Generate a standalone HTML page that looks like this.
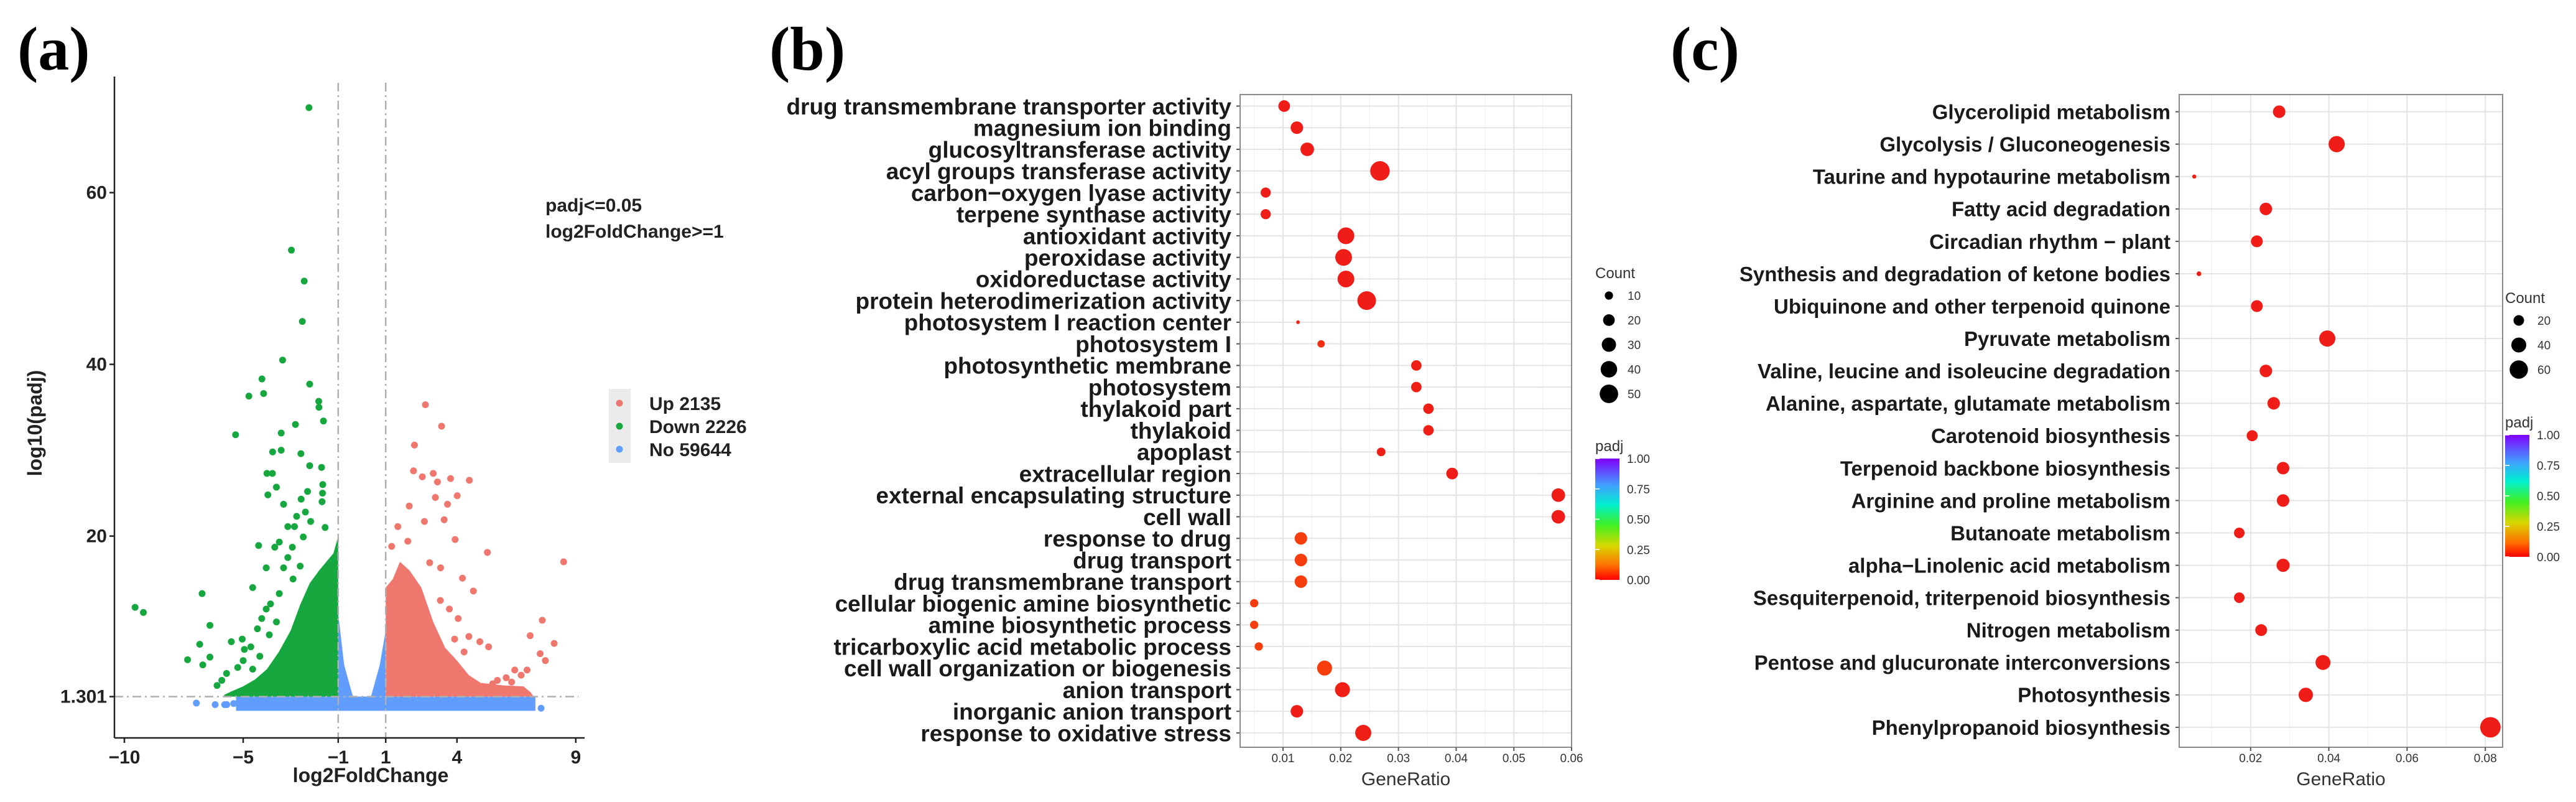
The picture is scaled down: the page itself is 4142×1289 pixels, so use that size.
<!DOCTYPE html>
<html><head><meta charset="utf-8"><style>
html,body{margin:0;padding:0;background:#fff;}
svg{display:block;}
text{font-family:"Liberation Sans",sans-serif;}
</style></head><body>
<svg id="fig" width="4142" height="1289" viewBox="0 0 4142 1289">
<defs>
<linearGradient id="padjGrad" x1="0" y1="1" x2="0" y2="0">
<stop offset="0" stop-color="#ff0000"/><stop offset="0.12" stop-color="#ff7000"/><stop offset="0.28" stop-color="#d8d800"/><stop offset="0.45" stop-color="#40f020"/><stop offset="0.62" stop-color="#00f0d0"/><stop offset="0.78" stop-color="#40a0ff"/><stop offset="1" stop-color="#8000ff"/>
</linearGradient>
</defs>
<text x="28" y="112" font-weight="bold" font-size="100" style="font-family:'Liberation Serif',serif">(a)</text>
<text x="1237" y="112" font-weight="bold" font-size="100" style="font-family:'Liberation Serif',serif">(b)</text>
<text x="2686" y="112" font-weight="bold" font-size="100" style="font-family:'Liberation Serif',serif">(c)</text>
<g id="pa"></g>
<g id="pb"></g>
<g id="pc"></g>
</svg>
<script>
// ===== Panel A data =====
const aXTicks = [-10, -5, -1, 1, 4, 9];
const aYTicks = [1.301, 20, 40, 60];
const greenX = [-2.23,-2.97,-2.43,-2.51,-3.34,-4.21,-4.76,-4.14,-2.2,-1.82,-1.81,-1.62,-5.32,-2.8,-3.4,-3.4,-3.76,-2.57,-2.2,-4.0,-3.77,-3.6,-3.96,-1.7,-1.65,-1.66,-1.68,-1.55,-4.35,-4.6,-6.73,-9.55,-9.2,-6.4,-7.34,-6.83,-6.4,-6.7,-5.5,-5.04,-5.23,-4.95,-4.68,-4.4,-4.22,-4.03,-3.85,-3.48,-3.3,-3.12,-2.93,-2.84,-2.75,-2.38,-2.47,-2.16,-4.03,-3.67,-3.12,-3.48,-2.56,-2.29,-3.3,-5.9,-6.1,-5.7,-3.9,-3.6,-4.3,-2.9,-2.6,-5.0,-4.6];
const greenY = [69.9,53.3,49.7,45.0,40.5,38.3,36.3,36.6,37.7,35.7,35.0,33.4,31.8,33.0,32.0,30.0,29.8,29.6,28.2,27.3,27.3,25.7,24.8,28.0,26.0,25.0,24.0,21.0,18.9,14.0,13.3,11.7,11.1,9.6,5.6,7.4,5.9,5.0,7.7,8.0,4.7,6.8,7.1,9.2,10.4,11.5,12.1,13.3,16.3,17.5,18.7,21.1,22.3,22.8,19.9,21.7,16.3,18.7,21.1,19.3,24.3,25.2,23.7,3.2,2.6,4.0,8.5,10.0,6.0,15.0,16.5,5.5,4.5];
const redX = [2.67,3.35,2.21,2.17,2.54,3.0,3.18,3.73,4.52,3.09,3.6,4.01,1.99,3.46,1.51,2.63,3.92,5.28,8.49,4.69,1.25,1.93,2.85,3.31,4.23,7.59,7.08,8.09,7.5,7.72,4.5,4.96,5.33,4.05,3.68,6.43,6.95,6.07,5.7,5.5,6.3,6.7,3.9,4.3,3.3];
const redY = [35.3,32.8,30.6,27.6,26.9,27.3,26.3,26.7,26.5,24.5,23.7,24.7,23.5,21.9,21.1,21.7,19.6,18.1,17.0,13.6,18.8,19.4,16.9,16.3,15.1,10.2,8.4,7.5,6.3,5.5,8.3,7.7,7.1,10.4,11.5,4.4,4.4,3.5,3.2,2.8,3.0,3.8,8.0,6.5,12.5];
const blueX = [-6.97,-6.18,-5.78,-5.69,7.54,7.08,6.43,6.9,-5.4];
const blueY = [0.55,0.37,0.37,0.37,-0.05,1.1,0.2,0.6,0.5];
const greenEnvX = [-1,-1.2,-1.5,-1.8,-2.2,-2.6,-3,-3.5,-4,-4.5,-5,-5.5,-5.8];
const greenEnvY = [20,18,17,16,14.5,12,9,6.5,4.5,3.3,2.5,1.9,1.5];
const redEnvX = [1,1.3,1.6,2,2.5,3,3.5,4,4.5,5,6,6.8,7.1,7.2];
const redEnvY = [14,15,17,16,14,10,7,5.5,3.8,2.9,2.6,2.5,1.8,1.4];
const vX = [-1,-0.75,-0.4,0,0.4,0.75,1];
const vY = [11,5,1.5,-0.2,1.5,5,9];
const bandRange = [-5.3, 7.3];
const bandLow = -0.35;
const legendLabels = ['Up 2135','Down 2226','No 59644'];

// ===== Panel B data =====
const bTerms = ['drug transmembrane transporter activity','magnesium ion binding','glucosyltransferase activity','acyl groups transferase activity','carbon\u2212oxygen lyase activity','terpene synthase activity','antioxidant activity','peroxidase activity','oxidoreductase activity','protein heterodimerization activity','photosystem I reaction center','photosystem I','photosynthetic membrane','photosystem','thylakoid part','thylakoid','apoplast','extracellular region','external encapsulating structure','cell wall','response to drug','drug transport','drug transmembrane transport','cellular biogenic amine biosynthetic','amine biosynthetic process','tricarboxylic acid metabolic process','cell wall organization or biogenesis','anion transport','inorganic anion transport','response to oxidative stress'];
const bRatio = [0.0102,0.0124,0.0142,0.0268,0.0070,0.0070,0.0209,0.0205,0.0209,0.0245,0.0126,0.0166,0.0331,0.0331,0.0352,0.0352,0.0270,0.0393,0.0577,0.0577,0.0131,0.0131,0.0131,0.0050,0.0050,0.0058,0.0172,0.0203,0.0124,0.0239];
const bCount = [20,23,27,56,15,15,41,41,41,51,2,8,16,16,16,16,11,20,27,27,23,23,23,10,10,10,33,33,23,38];
const bPadj = [0.005,0.005,0.005,0.005,0.005,0.005,0.005,0.005,0.005,0.005,0.02,0.03,0.01,0.01,0.01,0.01,0.01,0.005,0.005,0.005,0.05,0.05,0.05,0.05,0.05,0.05,0.05,0.01,0.005,0.01];
const bXTicks = [0.01,0.02,0.03,0.04,0.05,0.06];
const bSizeLegend = [10,20,30,40,50];
// ===== Panel C data =====
const cTerms = ['Glycerolipid metabolism','Glycolysis / Gluconeogenesis','Taurine and hypotaurine metabolism','Fatty acid degradation','Circadian rhythm \u2212 plant','Synthesis and degradation of ketone bodies','Ubiquinone and other terpenoid quinone','Pyruvate metabolism','Valine, leucine and isoleucine degradation','Alanine, aspartate, glutamate metabolism','Carotenoid biosynthesis','Terpenoid backbone biosynthesis','Arginine and proline metabolism','Butanoate metabolism','alpha\u2212Linolenic acid metabolism','Sesquiterpenoid, triterpenoid biosynthesis','Nitrogen metabolism','Pentose and glucuronate interconversions','Photosynthesis','Phenylpropanoid biosynthesis'];
const cRatio = [0.0273,0.0420,0.0056,0.0239,0.0216,0.0068,0.0216,0.0396,0.0239,0.0259,0.0204,0.0283,0.0283,0.0171,0.0283,0.0171,0.0227,0.0385,0.0341,0.0813];
const cCount = [28,47,3,28,25,4,25,47,28,28,22,28,28,20,31,20,25,40,37,75];
const cPadj = [0.005,0.005,0.01,0.005,0.005,0.01,0.005,0.005,0.005,0.005,0.005,0.005,0.005,0.005,0.005,0.005,0.005,0.005,0.005,0.005];
const cXTicks = [0.02,0.04,0.06,0.08];
const cSizeLegend = [20,40,60];
const padjTicks = [1.00,0.75,0.50,0.25,0.00];

const NS='http://www.w3.org/2000/svg';
function mk(tag, attrs, parent){const e=document.createElementNS(NS,tag);for(const k in attrs)e.setAttribute(k,attrs[k]);parent.appendChild(e);return e;}
function txt(s, attrs, parent){const e=mk('text',attrs,parent);e.textContent=s;return e;}
function padjColor(p){
  const stops=[[0,[238,24,24]],[0.12,[255,112,0]],[0.28,[216,216,0]],[0.45,[64,240,32]],[0.62,[0,240,208]],[0.78,[64,160,255]],[1,[128,0,255]]];
  for(let i=1;i<stops.length;i++){if(p<=stops[i][0]){const a=stops[i-1],b=stops[i];const t=(p-a[0])/(b[0]-a[0]);const c=a[1].map((v,j)=>Math.round(v+(b[1][j]-v)*t));return 'rgb('+c.join(',')+')';}}
  return 'rgb(128,0,255)';
}

// ===== Panel A =====
(function(){
const g=document.getElementById('pa');
const ax=v=>200+(v+10)*38.2, ay=v=>1137.6-v*13.8;
const AX0=184, AX1=940, AY0=123, AY1=1186;
let e=mk('rect',{x:ax(bandRange[0]),y:ay(1.301),width:ax(bandRange[1])-ax(bandRange[0]),height:ay(bandLow)-ay(1.301),fill:'#619cff'},g);


let pts=vX.map((x,i)=>ax(x)+','+ay(vY[i])).join(' ')+' '+ax(1)+','+ay(1.301)+' '+ax(-1)+','+ay(1.301);
e=mk('polygon',{points:pts,fill:'#619cff'},g);


blueX.forEach((x,i)=>{const c=mk('circle',{cx:ax(x),cy:ay(blueY[i]),r:5.5,fill:'#619cff'},g);

});
pts=greenEnvX.map((x,i)=>ax(x)+','+ay(greenEnvY[i])).join(' ')+' '+ax(greenEnvX[greenEnvX.length-1])+','+ay(1.301)+' '+ax(-1)+','+ay(1.301);
e=mk('polygon',{points:pts,fill:'#16a83e'},g);


pts=redEnvX.map((x,i)=>ax(x)+','+ay(redEnvY[i])).join(' ')+' '+ax(redEnvX[redEnvX.length-1])+','+ay(1.301)+' '+ax(1)+','+ay(1.301);
e=mk('polygon',{points:pts,fill:'#f0776d'},g);


greenX.forEach((x,i)=>{const c=mk('circle',{cx:ax(x),cy:ay(greenY[i]),r:5.5,fill:'#16a83e'},g);

});
redX.forEach((x,i)=>{const c=mk('circle',{cx:ax(x),cy:ay(redY[i]),r:5.5,fill:'#f0776d'},g);

});
[-1,1].forEach(v=>{const l=mk('line',{x1:ax(v),x2:ax(v),y1:AY0+10,y2:AY1,stroke:'#b0b0b0','stroke-width':2.5,'stroke-dasharray':'14 6 3 6'},g);

});
e=mk('line',{x1:AX0,x2:AX1-10,y1:ay(1.301),y2:ay(1.301),stroke:'#b0b0b0','stroke-width':2.5,'stroke-dasharray':'14 6 3 6'},g);


e=mk('line',{x1:AX0,x2:AX0,y1:AY0,y2:AY1,stroke:'#222','stroke-width':2.5},g);


e=mk('line',{x1:AX0,x2:AX1,y1:AY1,y2:AY1,stroke:'#222','stroke-width':2.5},g);


aXTicks.forEach(v=>{const t=mk('line',{x1:ax(v),x2:ax(v),y1:AY1,y2:AY1+8,stroke:'#222','stroke-width':2.5},g);


const l=txt(v<0?'\u2212'+Math.abs(v):String(v),{x:ax(v),y:1227,'text-anchor':'middle','font-size':30,'font-weight':'bold',fill:'#222'},g);

});
aYTicks.forEach(v=>{const t=mk('line',{x1:AX0-8,x2:AX0,y1:ay(v),y2:ay(v),stroke:'#222','stroke-width':2.5},g);


const l=txt(String(v),{x:AX0-12,y:ay(v)+10,'text-anchor':'end','font-size':30,'font-weight':'bold',fill:'#222'},g);

});
e=txt('log2FoldChange',{x:596,y:1257,'text-anchor':'middle','font-size':32,'font-weight':'bold',fill:'#222'},g);


e=txt('log10(padj)',{x:0,y:0,'text-anchor':'middle','font-size':32,'font-weight':'bold',fill:'#222',transform:'translate(67,680) rotate(-90)'},g);


e=txt('padj<=0.05',{x:877,y:340,'font-size':30,'font-weight':'bold',fill:'#222'},g);


e=txt('log2FoldChange>=1',{x:877,y:382,'font-size':30,'font-weight':'bold',fill:'#222'},g);


e=mk('rect',{x:979,y:625,width:35,height:119,fill:'#ebebeb'},g);


const lc=['#f0776d','#16a83e','#619cff'];
legendLabels.forEach((s,i)=>{const y=648+i*37;
const c=mk('circle',{cx:996,cy:y,r:5.5,fill:lc[i]},g);


const t=txt(s,{x:1044,y:y+11,'font-size':30,'font-weight':'bold',fill:'#222'},g);

});
})();

function dotPlot(g,o){
  const sx=v=>o.x0+(v-o.v0)*o.k;
  let e=mk('rect',{x:o.L,y:o.T,width:o.R-o.L,height:o.B-o.T,fill:'#fff'},g);
  
  
  o.minor.forEach(v=>{const l=mk('line',{x1:sx(v),x2:sx(v),y1:o.T,y2:o.B,stroke:'#f3f3f3','stroke-width':1.5},g);
  
  });
  o.ticks.forEach(v=>{const l=mk('line',{x1:sx(v),x2:sx(v),y1:o.T,y2:o.B,stroke:'#e4e4e4','stroke-width':2},g);
  
  });
  o.terms.forEach((s,i)=>{const y=o.r0+i*o.dr;
  const l=mk('line',{x1:o.L,x2:o.R,y1:y,y2:y,stroke:'#e4e4e4','stroke-width':2},g);
  
  
  const tk=mk('line',{x1:o.L-6,x2:o.L,y1:y,y2:y,stroke:'#555','stroke-width':2},g);
  
  
  const t=txt(s,{x:o.L-14,y:y+o.fs*0.36,'text-anchor':'end','font-size':o.fs,'font-weight':'bold',fill:'#1a1a1a'},g);
  
  });
  o.terms.forEach((s,i)=>{const c=mk('circle',{cx:sx(o.ratio[i]),cy:o.r0+i*o.dr,r:o.sz(o.count[i]),fill:padjColor(o.padj[i])},g);
  
  });
  e=mk('rect',{x:o.L,y:o.T,width:o.R-o.L,height:o.B-o.T,fill:'none',stroke:'#8a8a8a','stroke-width':2},g);
  
  
  o.ticks.forEach(v=>{const tk=mk('line',{x1:sx(v),x2:sx(v),y1:o.B,y2:o.B+6,stroke:'#555','stroke-width':2},g);
  
  
  const t=txt(String(v),{x:sx(v),y:1225,'text-anchor':'middle','font-size':19,fill:'#333'},g);
  
  });
  e=txt('GeneRatio',{x:(o.L+o.R)/2,y:1262,'text-anchor':'middle','font-size':30,fill:'#333'},g);
  
  
  e=txt('Count',{x:o.lx,y:o.cy0-28,'font-size':24,fill:'#333'},g);
  
  
  o.sizes.forEach((v,i)=>{const y=o.cy0+i*o.cdy;
  const c=mk('circle',{cx:o.lx+22,cy:y,r:o.sz(v),fill:'#000'},g);
  
  
  const t=txt(String(v),{x:o.lx+52,y:y+7,'font-size':19,fill:'#333'},g);
  
  });
  e=txt('padj',{x:o.lx,y:o.pT-12,'font-size':24,fill:'#333'},g);
  
  
  e=mk('rect',{x:o.lx,y:o.pT,width:o.pw,height:o.pB-o.pT,fill:'url(#padjGrad)'},g);
  
  
  padjTicks.forEach(v=>{const y=o.pB-(o.pB-o.pT)*v;
  const t=txt(v.toFixed(2),{x:o.lx+o.pw+12,y:y+7,'font-size':19,fill:'#333'},g);
  
  
  const l=mk('line',{x1:o.lx,x2:o.lx+7,y1:y,y2:y,stroke:'#fff','stroke-width':1.5},g);
  
  });
}
dotPlot(document.getElementById('pb'),{L:1994,R:2527,T:152,B:1201,x0:2063,v0:0.01,k:9280,r0:170.5,dr:34.74,fs:37,
  terms:bTerms,ratio:bRatio,count:bCount,padj:bPadj,ticks:bXTicks,minor:[0.005,0.015,0.025,0.035,0.045,0.055],
  sz:c=>2.1*Math.sqrt(c),sizes:bSizeLegend,lx:2565,cy0:475,cdy:39.5,pT:737,pB:932,pw:39});
dotPlot(document.getElementById('pc'),{L:3504,R:4024,T:152,B:1201,x0:3493,v0:0,k:6290,r0:179.6,dr:52.07,fs:33,
  terms:cTerms,ratio:cRatio,count:cCount,padj:cPadj,ticks:cXTicks,minor:[0.01,0.03,0.05,0.07],
  sz:c=>1.9*Math.sqrt(c),sizes:cSizeLegend,lx:4028,cy0:515,cdy:39.5,pT:699,pB:895,pw:39});
</script>
</body></html>
